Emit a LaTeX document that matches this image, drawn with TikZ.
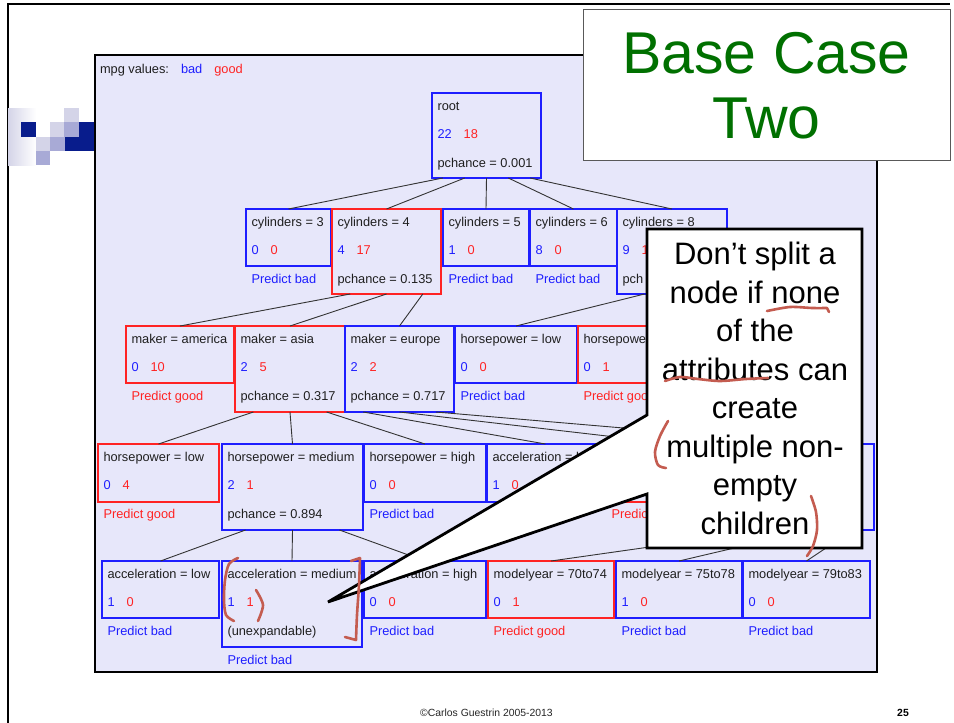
\documentclass[tikz,border=0pt]{standalone}
\usepackage{fontspec}
\setmainfont{Liberation Sans}
\usetikzlibrary{calc}

\definecolor{tblue}{RGB}{30,30,255}
\definecolor{tred}{RGB}{255,35,35}
\definecolor{panelbg}{RGB}{231,231,250}
\definecolor{titlegreen}{RGB}{0,112,0}
\definecolor{inkred}{RGB}{196,92,80}
\definecolor{logodark}{RGB}{8,28,140}
\definecolor{logomid}{RGB}{168,170,214}
\definecolor{logolight}{RGB}{212,212,232}

\tikzset{
  box/.style={rectangle, inner sep=0pt, outer sep=0pt, line width=1.2pt},
  lbl/.style={inner sep=0pt, outer sep=0pt, font=\fontsize{12.8}{14}\selectfont,
    text=black!88, text height=9.2pt, text depth=2.6pt},
  edge/.style={draw=black!80, line width=0.9pt},
  ink/.style={draw=inkred, line width=2.6pt, line cap=round, line join=round},
}

% an empty tree box: name, x, y, width, height, colour
\newcommand\treeframe[6]{%
  \node[box, draw=#6, minimum width=#4pt, minimum height=#5pt, anchor=north west] (#1) at (#2,#3) {};
}
% a tree box with its title: name, x, y, width, height, colour, title
\newcommand\treebox[7]{%
  \treeframe{#1}{#2}{#3}{#4}{#5}{#6}
  \node[lbl, anchor=west] (#1-t) at ([xshift=5.5pt,yshift=-14pt]#1.north west) {#7};
}
% bad / good counts of a tree box
\newcommand\treecounts[3]{%
  \node[lbl, anchor=west] (#1-c) at ([xshift=5.5pt,yshift=-42pt]#1.north west)
    {\textcolor{tblue}{#2}\hspace{12pt}\textcolor{tred}{#3}};
}
% a further line under the top of a tree box: name, depth, colour, text
\newcommand\treenote[4]{%
  \node[lbl, anchor=west, text=#3] (#1-#2) at ([xshift=5.5pt,yshift=-#2pt]#1.north west) {#4};
}

\begin{document}
\begin{tikzpicture}[x=1pt,y=-1pt]
\fill[white] (0,0) rectangle (954,723);
\useasboundingbox (0,0) rectangle (954,723);

% slide frame
\draw[line width=1.8pt] (8,723) -- (8,4) -- (950,4);

% corner logo
\shade[left color=logolight, right color=white] (8,108) rectangle (36,165);
\fill[logodark] (21,122) rectangle (36,137);
\fill[logolight] (36,137) rectangle (50,151);
\fill[logomid] (36,151) rectangle (50,165);
\fill[logolight] (50,122) rectangle (65,137);
\fill[logomid] (50,137) rectangle (65,151);
\fill[logolight] (64,108) rectangle (79,122);
\fill[logomid] (64,122) rectangle (79,137);
\fill[logodark] (65,137) rectangle (96,151);
\fill[logodark] (79,122) rectangle (96,137);

% tree panel
\draw[fill=panelbg, line width=1.5pt] (95,55) rectangle (877,672);
\node[lbl, anchor=west] (legend) at (100,70)
  {mpg values:\hspace{12pt}\textcolor{tblue}{bad}\hspace{12pt}\textcolor{tred}{good}};

% ---------- tree boxes ----------
\treebox{root}{432}{93}{109}{85}{tblue}{root}
\treecounts{root}{22}{18}
\treenote{root}{71}{black!88}{pchance = 0.001}

\treebox{c3}{246}{209}{85}{57}{tblue}{cylinders = 3}
\treecounts{c3}{0}{0}
\treenote{c3}{71}{tblue}{Predict bad}
\treebox{c4}{332}{209}{109}{85}{tred}{cylinders = 4}
\treecounts{c4}{4}{17}
\treenote{c4}{71}{black!88}{pchance = 0.135}
\treebox{c5}{443}{209}{86}{57}{tblue}{cylinders = 5}
\treecounts{c5}{1}{0}
\treenote{c5}{71}{tblue}{Predict bad}
\treebox{c6}{530}{209}{87}{57}{tblue}{cylinders = 6}
\treecounts{c6}{8}{0}
\treenote{c6}{71}{tblue}{Predict bad}
\treebox{c8}{617}{209}{110}{85}{tblue}{cylinders = 8}
\treecounts{c8}{9}{1}
\treenote{c8}{71}{black!88}{pch}

\treebox{ma}{126}{326}{108}{57}{tred}{maker = america}
\treecounts{ma}{0}{10}
\treenote{ma}{71}{tred}{Predict good}
\treebox{as}{235}{326}{110}{86}{tred}{maker = asia}
\treecounts{as}{2}{5}
\treenote{as}{71}{black!88}{pchance = 0.317}
\treebox{eu}{345}{326}{109}{86}{tblue}{maker = europe}
\treecounts{eu}{2}{2}
\treenote{eu}{71}{black!88}{pchance = 0.717}
\treebox{hl}{455}{326}{122}{57}{tblue}{horsepower = low}
\treecounts{hl}{0}{0}
\treenote{hl}{71}{tblue}{Predict bad}
\treebox{hm}{578}{326}{140}{57}{tred}{horsepower = medium}
\treecounts{hm}{0}{1}
\treenote{hm}{71}{tred}{Predict good}

\treebox{hpl}{98}{444}{121}{58}{tred}{horsepower = low}
\treecounts{hpl}{0}{4}
\treenote{hpl}{71}{tred}{Predict good}
\treebox{hpm}{222}{444}{141}{86}{tblue}{horsepower = medium}
\treecounts{hpm}{2}{1}
\treenote{hpm}{71}{black!88}{pchance = 0.894}
\treebox{hph}{364}{444}{122}{58}{tblue}{horsepower = high}
\treecounts{hph}{0}{0}
\treenote{hph}{71}{tblue}{Predict bad}
\treebox{al}{487}{444}{117}{58}{tblue}{acceleration = low}
\treecounts{al}{1}{0}
\treeframe{am}{606}{444}{140}{58}{tred}
\treenote{am}{71}{tred}{Predict good}
\treeframe{ah}{748}{444}{126}{86}{tblue}

\treebox{xl}{102}{561}{117}{57}{tblue}{acceleration = low}
\treecounts{xl}{1}{0}
\treenote{xl}{71}{tblue}{Predict bad}
\treebox{xm}{222}{561}{140}{86}{tblue}{acceleration = medium}
\treecounts{xm}{1}{1}
\treenote{xm}{71}{black!88}{(unexpandable)}
\treenote{xm}{100}{tblue}{Predict bad}
\treebox{xh}{364}{561}{122}{57}{tblue}{acceleration = high}
\treecounts{xh}{0}{0}
\treenote{xh}{71}{tblue}{Predict bad}
\treebox{m1}{488}{561}{126}{57}{tred}{modelyear = 70to74}
\treecounts{m1}{0}{1}
\treenote{m1}{71}{tred}{Predict good}
\treebox{m2}{616}{561}{126}{57}{tblue}{modelyear = 75to78}
\treecounts{m2}{1}{0}
\treenote{m2}{71}{tblue}{Predict bad}
\treebox{m3}{743}{561}{127}{57}{tblue}{modelyear = 79to83}
\treecounts{m3}{0}{0}
\treenote{m3}{71}{tblue}{Predict bad}

% ---------- branches ----------
\draw[edge] ($(root.south west)!0.1!(root.south east)$) -- (c3.north);
\draw[edge] ($(root.south west)!0.3!(root.south east)$) -- (c4.north);
\draw[edge] ($(root.south west)!0.5!(root.south east)$) -- (c5.north);
\draw[edge] ($(root.south west)!0.7!(root.south east)$) -- (c6.north);
\draw[edge] ($(root.south west)!0.9!(root.south east)$) -- (c8.north);

\draw[edge] ($(c4.south west)!0.167!(c4.south east)$) -- (ma.north);
\draw[edge] ($(c4.south west)!0.5!(c4.south east)$) -- (as.north);
\draw[edge] ($(c4.south west)!0.833!(c4.south east)$) -- (eu.north);
\draw[edge] ($(c8.south west)!0.25!(c8.south east)$) -- (hl.north);
\draw[edge] ($(c8.south west)!0.75!(c8.south east)$) -- (hm.north);

\draw[edge] ($(as.south west)!0.167!(as.south east)$) -- (hpl.north);
\draw[edge] ($(as.south west)!0.5!(as.south east)$) -- (hpm.north);
\draw[edge] ($(as.south west)!0.833!(as.south east)$) -- (hph.north);
\draw[edge] ($(eu.south west)!0.167!(eu.south east)$) -- (al.north);
\draw[edge] ($(eu.south west)!0.5!(eu.south east)$) -- (am.north);
\draw[edge] ($(eu.south west)!0.833!(eu.south east)$) -- (ah.north);

\draw[edge] ($(hpm.south west)!0.167!(hpm.south east)$) -- (xl.north);
\draw[edge] ($(hpm.south west)!0.5!(hpm.south east)$) -- (xm.north);
\draw[edge] ($(hpm.south west)!0.833!(hpm.south east)$) -- (xh.north);
\draw[edge] ($(ah.south west)!0.167!(ah.south east)$) -- (m1.north);
\draw[edge] ($(ah.south west)!0.5!(ah.south east)$) -- (m2.north);
\draw[edge] ($(ah.south west)!0.833!(ah.south east)$) -- (m3.north);

% ---------- speech callout ----------
\draw[fill=white, line width=2.8pt, miter limit=3]
  (647,229) -- (862,229) -- (862,548) -- (647,548) -- (647,494)
  -- (328,602) -- (647,415) -- cycle;
\node[inner sep=0pt, anchor=north, align=center, font=\fontsize{31}{38.5}\selectfont]
  (note) at (755,242)
  {Don’t split a\\node if none\\of the\\attributes can\\create\\multiple non-\\empty\\children};

% ---------- title box ----------
\node[draw=black!65, fill=white, line width=1pt, minimum width=367pt, minimum height=151pt,
  anchor=north west, inner sep=0pt] (titlebox) at (583,9) {};
\node[inner sep=0pt, anchor=north, align=center, text=titlegreen,
  font=\fontsize{59}{65}\selectfont] (title) at (766.5,32) {Base Case\\Two};

% ---------- pen marks ----------
\draw[ink] plot[smooth] coordinates {(767,311) (790,307) (812,308) (827,308)} -- (829,312);
\draw[ink] plot[smooth] coordinates {(665,381) (680,377) (698,379) (720,381) (746,379) (768,378)};
\draw[ink] plot[smooth] coordinates {(668,421) (660,436) (655,452) (658,465) (666,468)};
\draw[ink] plot[smooth] coordinates {(811,496) (816,512) (817,530) (813,546) (807,556)};
\draw[ink] plot[smooth] coordinates {(238,558) (229,564) (225,580) (224,600) (226,615) (234,621)};
\draw[ink] plot[smooth] coordinates {(256,590) (263,605) (258,621)};
\draw[ink] (351,561) -- (360,558) plot[smooth] coordinates {(360,558) (359,585) (357,615) (356,640)} -- (345,637);

% ---------- footer ----------
\node[inner sep=0pt, font=\fontsize{10.4}{12}\selectfont, text=black!85] (foot) at (486.5,713)
  {©Carlos Guestrin 2005-2013};
\node[inner sep=0pt, font=\bfseries\fontsize{10.4}{12}\selectfont] (pagenum) at (903,713) {25};
\end{tikzpicture}
\end{document}
